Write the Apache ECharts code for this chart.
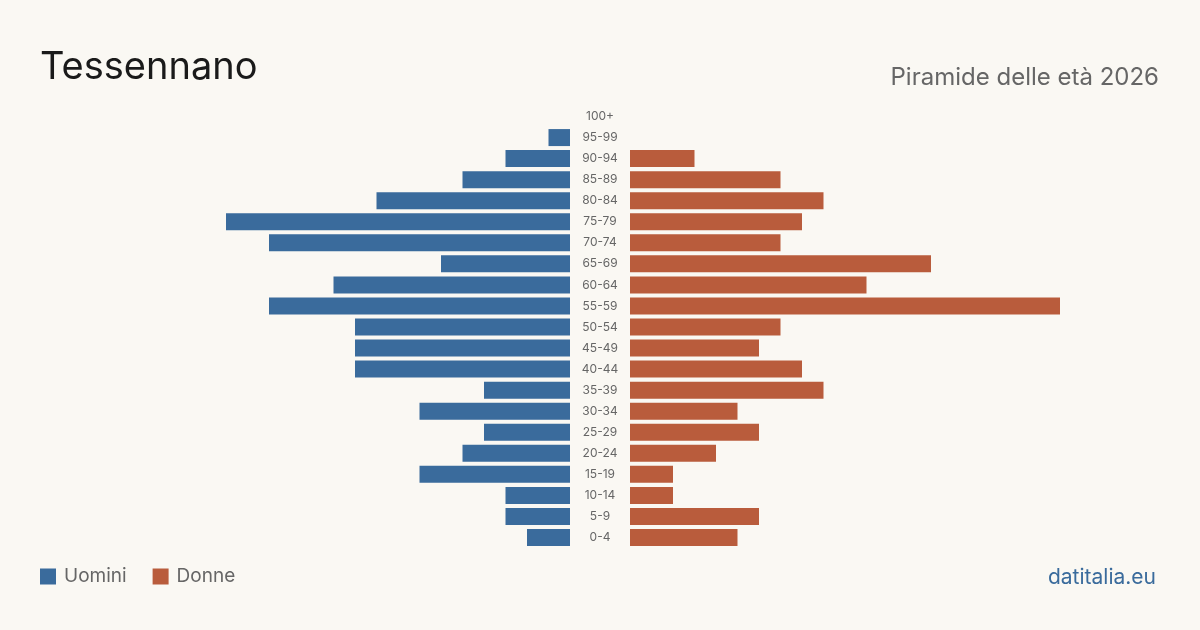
<!DOCTYPE html>
<html>
<head>
<meta charset="utf-8">
<script src="https://cdn.jsdelivr.net/npm/echarts@6/dist/echarts.min.js"></script>
<style>
  html, body { margin: 0; padding: 0; background: #faf8f3; }
  #chart { width: 1200px; height: 630px; }
</style>
</head>
<body>
<div id="chart"></div>
<script>
var ageGroups = ['0-4', '5-9', '10-14', '15-19', '20-24', '25-29', '30-34', '35-39', '40-44', '45-49',
    '50-54', '55-59', '60-64', '65-69', '70-74', '75-79', '80-84', '85-89', '90-94', '95-99', '100+'];
var uomini = [2, 3, 3, 7, 5, 4, 7, 4, 10, 10, 10, 14, 11, 6, 14, 16, 9, 5, 3, 1, 0];
var donne  = [5, 6, 2, 2, 4, 6, 5, 9, 8, 6, 7, 20, 11, 14, 7, 8, 9, 7, 3, 0, 0];

var blu = '#3a6b9c';
var rosso = '#b95c3c';
var font = 'Inter, "Noto Sans", sans-serif';

drawPyramid();

function drawPyramid() {
    var myChart = echarts.init(document.getElementById('chart'));
    var option = {
        backgroundColor: '#faf8f3',
        textStyle: { fontFamily: font },
        title: [{
            text: 'Tessennano',
            left: 35,
            top: 44,
            textStyle: { fontSize: 38, fontWeight: 'normal', color: '#1a1a1a', fontFamily: font }
        }, {
            text: 'Piramide delle età 2026',
            right: 36,
            top: 61,
            textStyle: { fontSize: 24, fontWeight: 'normal', color: '#666666', fontFamily: font }
        }, {
            text: 'datitalia.eu',
            right: 39,
            top: 562,
            textStyle: { fontSize: 21, fontWeight: 'normal', color: blu, fontFamily: font }
        }],
        legend: {
            data: ['Uomini', 'Donne'],
            left: 35,
            top: 562,
            itemWidth: 16,
            itemHeight: 16,
            itemGap: 26,
            icon: 'rect',
            textStyle: { fontSize: 19, color: '#666666', fontFamily: font, padding: [0, 0, 0, 3] }
        },
        grid: [
            { left: 140, width: 430, top: 106, height: 442 },
            { left: 630, width: 430, top: 106, height: 442 }
        ],
        xAxis: [
            { gridIndex: 0, type: 'value', min: 0, max: 20, inverse: true, show: false },
            { gridIndex: 1, type: 'value', min: 0, max: 20, show: false }
        ],
        yAxis: [
            {
                gridIndex: 0, type: 'category', data: ageGroups, position: 'right',
                axisLine: { show: false }, axisTick: { show: false },
                axisLabel: { align: 'center', margin: 30, fontSize: 12, color: '#666666', fontFamily: font }
            },
            {
                gridIndex: 1, type: 'category', data: ageGroups,
                axisLine: { show: false }, axisTick: { show: false }, axisLabel: { show: false }
            }
        ],
        series: [{
            name: 'Uomini',
            type: 'bar',
            xAxisIndex: 0,
            yAxisIndex: 0,
            data: uomini,
            barWidth: 17,
            itemStyle: { color: blu },
            silent: true
        }, {
            name: 'Donne',
            type: 'bar',
            xAxisIndex: 1,
            yAxisIndex: 1,
            data: donne,
            barWidth: 17,
            itemStyle: { color: rosso },
            silent: true
        }],
        animation: false
    };
    myChart.setOption(option);
}
</script>
</body>
</html>
